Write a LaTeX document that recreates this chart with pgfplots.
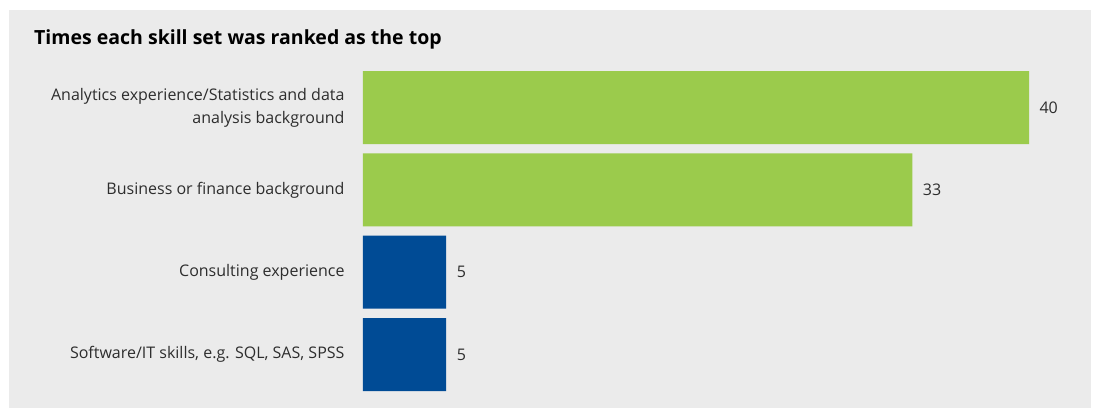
\documentclass[border=0pt]{standalone}
\usepackage{fontspec}
\setmainfont{Open Sans}
\usepackage{pgfplots}
\pgfplotsset{compat=1.18}
\definecolor{bggray}{RGB}{235,235,235}
\definecolor{dgreen}{RGB}{155,203,76}
\definecolor{dblue}{RGB}{0,75,149}
\definecolor{txt}{RGB}{45,45,45}
\begin{document}
\begin{tikzpicture}[x=1pt,y=1pt]
\path[fill=white] (0,0) rectangle (1096,408);
\fill[bggray] (9,0) rectangle (1091,398);
\node[anchor=base west, inner sep=0, font=\fontsize{19.5}{22}\selectfont\bfseries] at (34,363) {Times each skill set was ranked as the top};
\begin{axis}[
  at={(363pt,12.3pt)}, anchor=south west,
  scale only axis, width=666pt, height=329.3pt,
  xmin=0, xmax=40, ymin=-0.5, ymax=3.5, y dir=reverse,
  axis line style={draw=none}, xtick=\empty,
  ytick={0,1,2,3},
  yticklabels={{Analytics experience/Statistics and data\\analysis background},{Business or finance background},{Consulting experience},{Software/IT skills, e.g. SQL, SAS, SPSS}},
  major tick length=0pt,
  /pgf/number format/assume math mode=true,
  yticklabel style={align=right, font=\fontsize{16}{23.3}\selectfont, text=txt, xshift=-15pt},
  xbar, bar width=73pt, clip=false,
  nodes near coords,
  nodes near coords style={font=\fontsize{16}{18}\selectfont, text=txt, xshift=7pt},
]
\addplot[fill=dgreen, draw=none, bar shift=0pt] coordinates {(40,0) (33,1)};
\addplot[fill=dblue, draw=none, bar shift=0pt] coordinates {(5,2) (5,3)};
\end{axis}
\end{tikzpicture}
\end{document}
